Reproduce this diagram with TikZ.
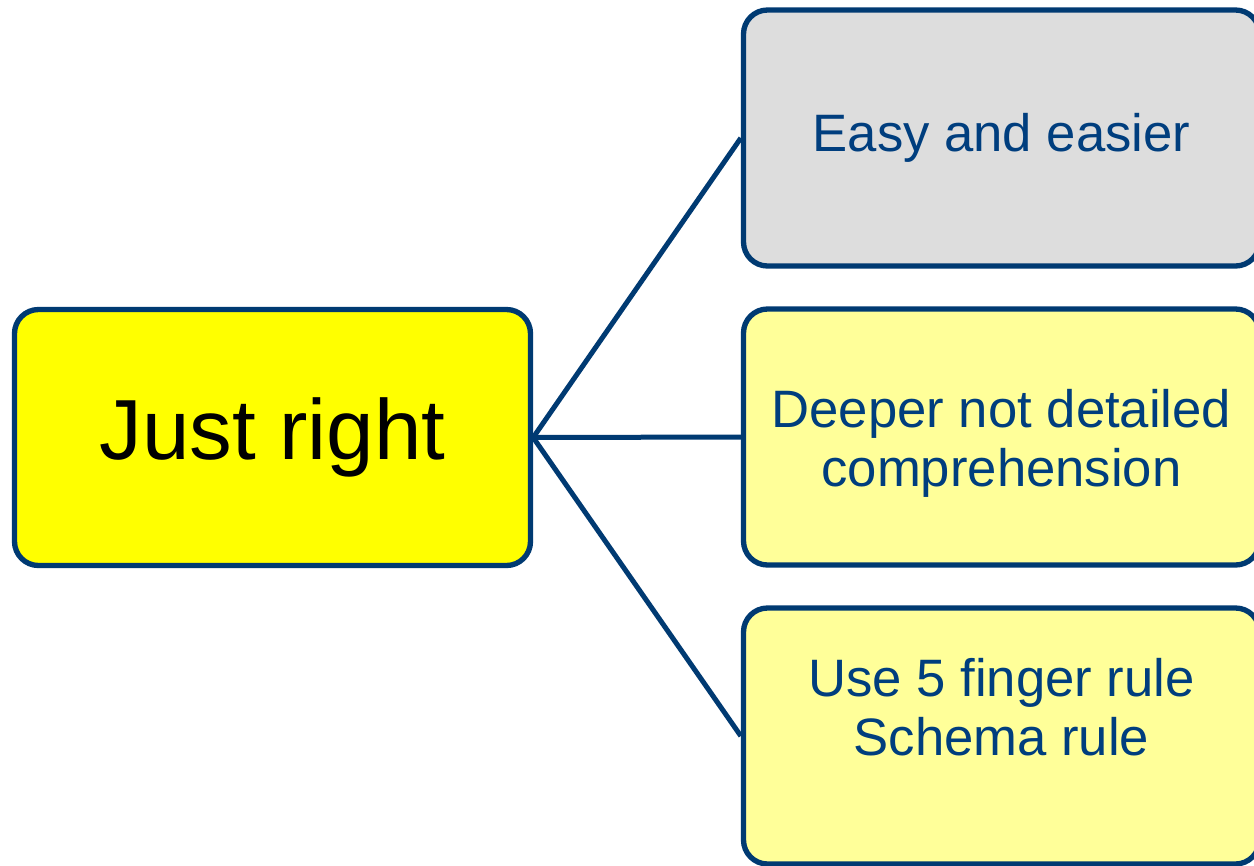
\documentclass[tikz,border=0pt]{standalone}
\usepackage{fontspec}
\setmainfont{Liberation Sans}
\definecolor{navy}{RGB}{0,58,114}
\definecolor{textblue}{RGB}{0,62,126}
\definecolor{boxgray}{RGB}{221,221,221}
\definecolor{brightyellow}{RGB}{255,255,0}
\definecolor{paleyellow}{RGB}{255,255,153}
\tikzset{
  boxstyle/.style={draw=navy, line width=4pt, rounded corners=18pt,
    minimum width=387pt, minimum height=192pt, inner sep=0pt, align=center},
  smalltext/.style={font=\fontsize{39.5}{44}\selectfont, text=textblue},
  bigtext/.style={font=\fontsize{64}{74}\selectfont, text=black},
  link/.style={draw=navy, line width=3.75pt}
}
\begin{document}
\begin{tikzpicture}[x=0.75pt,y=-0.75pt]
\useasboundingbox (0,0) rectangle (1254,865);
\clip (0,0) rectangle (1254,865);
\fill[white] (0,0) rectangle (1254,865);
\node[boxstyle, fill=brightyellow, bigtext] (main) at (272.5,437.5) {Just right};
\node[boxstyle, fill=boxgray, smalltext] (easy) at (1001.5,138) {Easy and easier};
\node[boxstyle, fill=paleyellow, smalltext] (deep) at (1001.5,437) {\rule{0pt}{38pt}Deeper not detailed\\comprehension};
\node[boxstyle, fill=paleyellow, smalltext] (rule) at (1001.5,736) {Use 5 finger rule\\Schema rule\\\mbox{}};
\draw[link] (main.east) -- (easy.west);
\draw[link] (main.east) -- (deep.west);
\draw[link] (main.east) -- (rule.west);
\end{tikzpicture}
\end{document}
